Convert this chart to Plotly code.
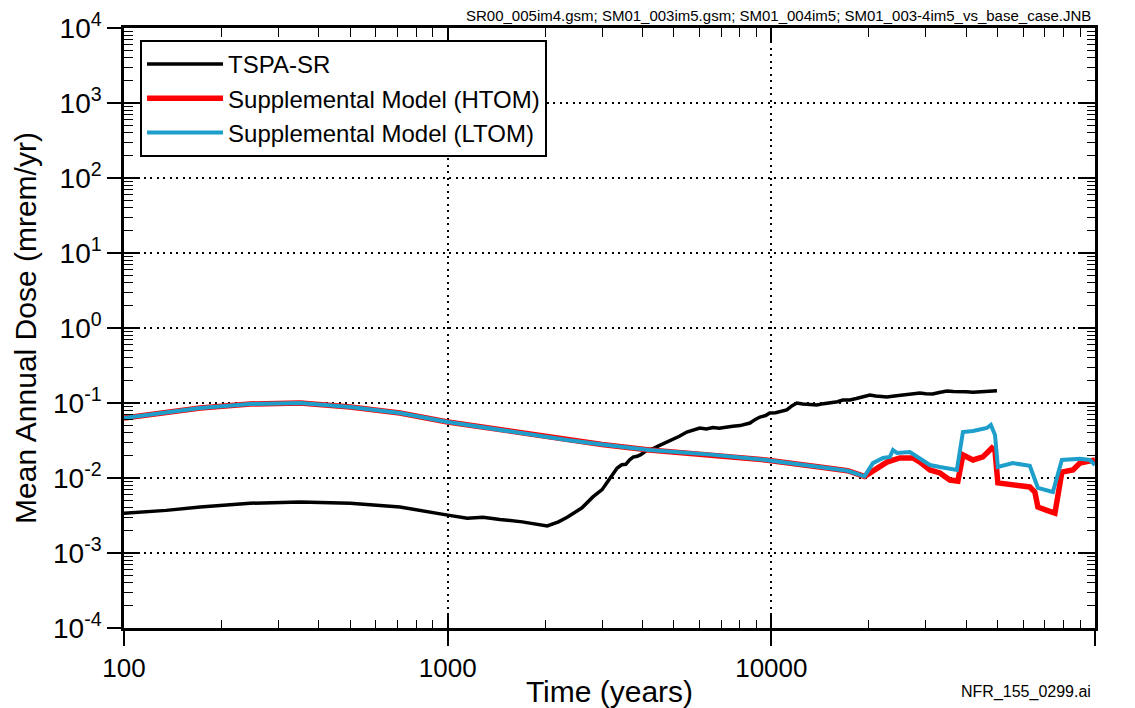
import plotly.graph_objects as go

# ---------------- data (years, mrem/yr) ----------------
tspa_t = [100, 135, 172, 245, 350, 500, 712, 900, 1000, 1150, 1285, 1450, 1700, 2030,
          2200, 2340, 2600, 2810, 2900, 3000, 3150, 3340, 3450, 3550, 3650, 3740, 3850,
          3950, 4130, 4300, 4500, 4760, 5000, 5200, 5480, 5700, 6010, 6300, 6600, 6900,
          7280, 7600, 8000, 8590, 8900, 9220, 9600, 9890, 10300, 10800, 11160, 11600,
          11990, 12500, 13000, 13830, 14500, 15200, 16000, 16640, 17500, 18300, 19200,
          20170, 21000, 22000, 22760, 24000, 25500, 27000, 28780, 30000, 31500, 33000,
          34850, 36500, 38000, 40000, 42000, 44000, 46000, 48000, 49800]
tspa_d = [0.0034, 0.0037, 0.0041, 0.0046, 0.0048, 0.0046, 0.0041, 0.0034, 0.0032, 0.0029,
          0.0030, 0.0028, 0.0026, 0.00229, 0.0026, 0.0030, 0.0040, 0.0056, 0.0062, 0.0070,
          0.0095, 0.0136, 0.0150, 0.0152, 0.0175, 0.0190, 0.0195, 0.0205, 0.0236, 0.0245,
          0.0270, 0.0302, 0.0330, 0.0360, 0.0410, 0.0430, 0.0464, 0.0450, 0.0470, 0.0460,
          0.0479, 0.0490, 0.0500, 0.0541, 0.0600, 0.0650, 0.0680, 0.0736, 0.0740, 0.0770,
          0.0807, 0.0920, 0.1000, 0.0970, 0.0950, 0.0940, 0.0980, 0.1000, 0.1040, 0.1096,
          0.1100, 0.1150, 0.1220, 0.1280, 0.1240, 0.1210, 0.1200, 0.1240, 0.1270, 0.1300,
          0.1360, 0.1330, 0.1320, 0.1380, 0.1445, 0.1420, 0.1400, 0.1410, 0.1390, 0.1410,
          0.1430, 0.1445, 0.1460]

# common part of both supplemental model curves (up to ~20,000 yr)
shared_t = [100, 135, 172, 245, 350, 500, 712, 1000, 1450, 2340, 3000, 4200, 6500, 9600,
            14100, 17200, 19400]
shared_d = [0.063, 0.076, 0.086, 0.097, 0.100, 0.0885, 0.0736, 0.0558, 0.0437, 0.0321,
            0.0280, 0.0236, 0.0205, 0.0174, 0.0140, 0.0125, 0.0105]

htom_t = [21200, 22760, 24950, 27370, 28780, 30900, 33180, 35620, 37700, 39080, 41970,
          45060, 48000, 49100, 50100, 55740, 62900, 65200, 66600, 71000, 75200, 79000,
          85500, 89800, 100000]
htom_d = [0.0136, 0.0163, 0.0185, 0.0185, 0.0163, 0.0128, 0.0117, 0.0094, 0.0091, 0.0203,
          0.0174, 0.0191, 0.0251, 0.0230, 0.0086, 0.0081, 0.0076, 0.0065, 0.0041, 0.0037,
          0.0034, 0.0120, 0.0128, 0.0158, 0.0174]

ltom_t = [20600, 22130, 23240, 23760, 24450, 26800, 28780, 30900, 33180, 35620, 37420,
          39080, 41970, 46340, 47670, 49100, 50100, 55740, 62900, 66600, 74100, 79000,
          89800, 96400, 100000]
ltom_d = [0.0158, 0.0185, 0.0191, 0.0236, 0.0216, 0.0222, 0.0185, 0.0149, 0.0140, 0.0132,
          0.0128, 0.041, 0.0423, 0.0464, 0.0509, 0.0374, 0.0140, 0.0158, 0.0145, 0.0074,
          0.0065, 0.0174, 0.0180, 0.0174, 0.0149]

x_tickvals = [100, 1000, 10000, 100000]
x_ticktext = ["100", "1000", "10000", "100000"]
y_tickvals = [1e-4, 1e-3, 1e-2, 1e-1, 1e0, 1e1, 1e2, 1e3, 1e4]
y_ticktext = ["10<sup>-4</sup>", "10<sup>-3</sup>", "10<sup>-2</sup>", "10<sup>-1</sup>",
              "10<sup>0</sup>", "10<sup>1</sup>", "10<sup>2</sup>", "10<sup>3</sup>",
              "10<sup>4</sup>"]
x_minor = [m * d for d in (100, 1000, 10000) for m in range(2, 10)]
y_minor = [m * 10.0 ** e for e in range(-4, 4) for m in range(2, 10)]

FONT = "Liberation Sans, Arial, sans-serif"
BLUE = "#1E9FCB"

fig = go.Figure()
fig.add_trace(go.Scatter(x=tspa_t, y=tspa_d, mode="lines", name="TSPA-SR",
                         line=dict(color="black", width=3.5)))
fig.add_trace(go.Scatter(x=shared_t + htom_t, y=shared_d + htom_d, mode="lines",
                         name="Supplemental Model (HTOM)",
                         line=dict(color="#FF0000", width=5.5)))
fig.add_trace(go.Scatter(x=shared_t + ltom_t, y=shared_d + ltom_d, mode="lines",
                         name="Supplemental Model (LTOM)",
                         line=dict(color=BLUE, width=4)))
# empty helper traces so the mirror / inner-tick axes are drawn
fig.add_trace(go.Scatter(x=[None], y=[None], xaxis="x2", yaxis="y2", showlegend=False,
                         hoverinfo="skip"))
fig.add_trace(go.Scatter(x=[None], y=[None], xaxis="x3", yaxis="y3", showlegend=False,
                         hoverinfo="skip"))

common_x = dict(type="log", range=[2, 5], tickvals=x_tickvals, showline=True,
                linecolor="black", linewidth=2.5, tickcolor="black", tickwidth=1.5,
                zeroline=False, fixedrange=True, automargin=False)
common_y = dict(type="log", range=[-4, 4], tickvals=y_tickvals, showline=True,
                linecolor="black", linewidth=2.5, tickcolor="black", tickwidth=1.5,
                zeroline=False, fixedrange=True, automargin=False)

# the page body adds an 8px offset, so the figure is sized/margined to compensate
fig.update_layout(
    width=1127, height=700,
    margin=dict(l=116, r=40, t=20, b=80, autoexpand=False),
    paper_bgcolor="white", plot_bgcolor="white",
    font=dict(family=FONT, color="black"),
    showlegend=True,
    legend=dict(x=0.0165, y=0.98, xanchor="left", yanchor="top",
                bgcolor="white", bordercolor="black", borderwidth=2,
                font=dict(size=24, family=FONT, color="black"),
                itemwidth=76, tracegroupgap=0),
    xaxis=dict(**common_x, ticktext=x_ticktext, ticks="outside", ticklen=15,
               tickfont=dict(size=26, family=FONT),
               showgrid=True, gridcolor="black", gridwidth=1.5, griddash="2px,4.5px",
               minor=dict(tickvals=x_minor, ticks="inside", ticklen=8,
                          tickcolor="black", tickwidth=1.2, showgrid=False),
               title=dict(text="Time (years)", font=dict(size=30, family=FONT),
                          standoff=2)),
    yaxis=dict(**common_y, ticktext=y_ticktext, ticks="outside", ticklen=14,
               tickfont=dict(size=28, family=FONT),
               showgrid=True, gridcolor="black", gridwidth=1.5, griddash="2px,4.5px",
               minor=dict(tickvals=y_minor, ticks="inside", ticklen=9,
                          tickcolor="black", tickwidth=1.2, showgrid=False),
               title=dict(text="Mean Annual Dose (mrem/yr)",
                          font=dict(size=30, family=FONT), standoff=8)),
    xaxis2=dict(**common_x, overlaying="x", side="top", anchor="y2", ticks="inside",
                ticklen=15, showticklabels=False, showgrid=False,
                minor=dict(tickvals=x_minor, ticks="inside", ticklen=9,
                           tickcolor="black", tickwidth=1.2, showgrid=False)),
    yaxis2=dict(**common_y, overlaying="y", side="right", anchor="x2", ticks="inside",
                ticklen=17, showticklabels=False, showgrid=False,
                minor=dict(tickvals=y_minor, ticks="inside", ticklen=8,
                           tickcolor="black", tickwidth=1.2, showgrid=False)),
    xaxis3=dict(**common_x, overlaying="x", side="bottom", anchor="y3", ticks="inside",
                ticklen=15, showticklabels=False, showgrid=False),
    yaxis3=dict(**common_y, overlaying="y", side="left", anchor="x3", ticks="inside",
                ticklen=16, showticklabels=False, showgrid=False),
    annotations=[
        dict(text="SR00_005im4.gsm; SM01_003im5.gsm; SM01_004im5; SM01_003-4im5_vs_base_case.JNB",
             xref="paper", yref="paper", x=0.998, y=1.0208, xanchor="right",
             yanchor="middle", showarrow=False, font=dict(size=15, family=FONT)),
        dict(text="NFR_155_0299.ai", xref="paper", yref="paper", x=0.998, y=-0.1067,
             xanchor="right", yanchor="middle", showarrow=False,
             font=dict(size=16, family=FONT)),
    ],
)

fig.write_html("out.html")
